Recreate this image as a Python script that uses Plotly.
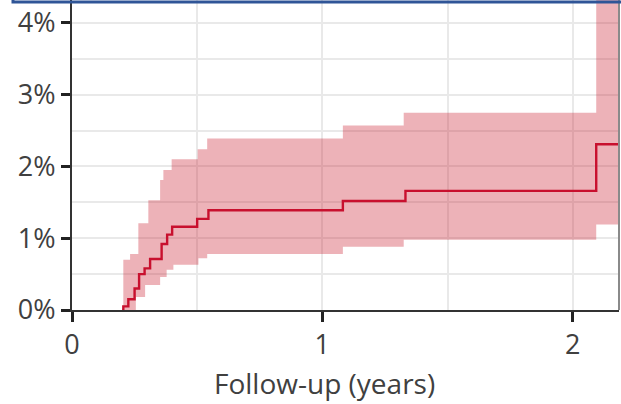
import plotly.graph_objects as go

# Cumulative incidence (%) over follow-up, step function with 95% CI band
line_t = [0.200, 0.205, 0.225, 0.250, 0.268, 0.290, 0.312, 0.358, 0.380, 0.400,
          0.500, 0.545, 1.082, 1.332, 2.094, 2.19]
line_v = [0.00, 0.05, 0.15, 0.30, 0.50, 0.58, 0.71, 0.92, 1.05, 1.16,
          1.27, 1.39, 1.52, 1.66, 2.31, 2.31]

upper_t = [0.205, 0.232, 0.265, 0.305, 0.352, 0.365, 0.398, 0.502, 0.540,
           1.082, 1.325, 2.094, 2.19]
upper_v = [0.70, 0.78, 1.21, 1.53, 1.81, 1.95, 2.10, 2.24, 2.39,
           2.57, 2.75, 6.00, 6.00]

lower_t = [0.205, 0.255, 0.292, 0.352, 0.378, 0.405, 0.505, 0.540,
           1.082, 1.325, 2.094, 2.19]
lower_v = [0.00, 0.18, 0.35, 0.46, 0.56, 0.63, 0.72, 0.78,
           0.88, 0.98, 1.19, 1.19]

x_ticks = [0, 1, 2]
y_ticks = [0, 1, 2, 3, 4]
y_tick_text = [f"{v}%" for v in y_ticks]
x_title = "Follow-up (years)"

RED = "#c8102e"
BAND = "rgba(200,20,40,0.33)"
GRID = "#e9e9e9"
AXIS = "#333333"
FONT = "Open Sans"
TEXT = "#404040"

fig = go.Figure()
fig.add_trace(go.Scatter(x=lower_t, y=lower_v, mode="lines", line_shape="hv",
                         line=dict(width=0, color=BAND), hoverinfo="skip",
                         showlegend=False))
fig.add_trace(go.Scatter(x=upper_t, y=upper_v, mode="lines", line_shape="hv",
                         line=dict(width=0, color=BAND), fill="tonexty",
                         fillcolor=BAND, hoverinfo="skip", showlegend=False))
fig.add_trace(go.Scatter(x=line_t, y=line_v, mode="lines", line_shape="hv",
                         line=dict(width=2.4, color=RED), showlegend=False))

fig.update_layout(
    width=621, height=404,
    margin=dict(l=72, r=2, t=0, b=94),
    paper_bgcolor="white", plot_bgcolor="white",
    font=dict(family=FONT, size=27, color=TEXT),
    showlegend=False,
)
fig.update_xaxes(
    range=[0, 2.185], tickvals=x_ticks, ticktext=[str(v) for v in x_ticks],
    showgrid=True, gridcolor=GRID, gridwidth=2,
    minor=dict(dtick=0.5, showgrid=True, gridcolor=GRID, gridwidth=2, ticks=""),
    showline=True, linecolor=AXIS, linewidth=2,
    ticks="outside", ticklen=10, tickwidth=3, tickcolor="#222222",
    zeroline=False, tickfont=dict(size=27),
)
fig.update_yaxes(
    range=[0, 4.32], tickvals=y_ticks, ticktext=y_tick_text,
    showgrid=True, gridcolor=GRID, gridwidth=2,
    minor=dict(dtick=0.5, showgrid=True, gridcolor=GRID, gridwidth=2, ticks=""),
    showline=True, linecolor=AXIS, linewidth=2,
    ticks="outside", ticklen=9, tickwidth=3, tickcolor="#222222",
    zeroline=False, tickfont=dict(size=27),
)

# axis title under the x axis
fig.add_annotation(x=1.01, xref="x", y=-0.235, yref="paper", text=x_title,
                   showarrow=False, yanchor="middle", xanchor="center",
                   font=dict(size=28, color=TEXT, family=FONT))

# right-hand plot border
fig.add_shape(type="line", xref="paper", yref="paper", x0=1, x1=1, y0=0, y1=1,
              line=dict(color="#8a8a8a", width=2))
# blue frame edge along the top
fig.add_shape(type="rect", xref="paper", yref="paper",
              x0=(13 - 72) / 547, x1=1.3, y0=(310 - 2) / 310, y1=1.2,
              line=dict(color="#2f5597", width=3), fillcolor="rgba(0,0,0,0)",
              layer="above")

fig.write_html("out.html")
